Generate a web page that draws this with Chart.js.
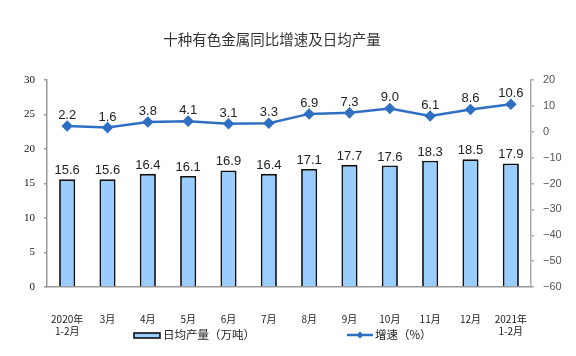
<!DOCTYPE html>
<html><head><meta charset="utf-8">
<script src="https://cdn.jsdelivr.net/npm/chart.js@4/dist/chart.umd.min.js"></script>
<style>html,body{margin:0;padding:0;background:#fff}#wrap{width:576px;height:356px}</style>
</head><body><div id="wrap"><canvas id="c" width="576" height="356"></canvas></div>
<script>
const categories = [["2020年","1-2月"],"3月","4月","5月","6月","7月","8月","9月","10月","11月","12月",["2021年","1-2月"]];
const output = [15.6,15.6,16.4,16.1,16.9,16.4,17.1,17.7,17.6,18.3,18.5,17.9];
const growth = [2.2,1.6,3.8,4.1,3.1,3.3,6.9,7.3,9.0,6.1,8.6,10.6];
const leftTicks = [0,5,10,15,20,25,30];
const rightTicks = [-60,-50,-40,-30,-20,-10,0,10,20];
const title = "十种有色金属同比增速及日均产量";
const legendBar = "日均产量（万吨）";
const legendLine = "增速（%）";

const BAR_FILL = "#99CCFF", LINE_COL = "#2F6FC3";
const CJK = '"Noto Sans CJK SC", sans-serif';

const deco = {
  id: 'deco',
  afterDatasetsDraw(chart) {
    const ctx = chart.ctx;
    ctx.save();
    ctx.fillStyle = '#222';
    ctx.textAlign = 'center';
    ctx.textBaseline = 'alphabetic';
    ctx.font = '13px "Liberation Sans", Arial, sans-serif';
    chart.getDatasetMeta(0).data.forEach((el, i) => {
      ctx.fillText(output[i].toFixed(1), el.x, el.y - 5);
    });
    chart.getDatasetMeta(1).data.forEach((el, i) => {
      ctx.fillText(growth[i].toFixed(1), el.x, el.y - 7);
    });
    // title
    ctx.font = '14.5px ' + CJK;
    ctx.fillStyle = '#333';
    ctx.textBaseline = 'middle';
    ctx.fillText(title, 272, 39);
    // legend
    ctx.textAlign = 'left';
    ctx.font = '11.5px ' + CJK;
    ctx.fillStyle = BAR_FILL;
    ctx.strokeStyle = '#000';
    ctx.lineWidth = 1.5;
    ctx.fillRect(134, 333, 26, 5);
    ctx.strokeRect(134, 333, 26, 5);
    ctx.fillStyle = '#222';
    ctx.fillText(legendBar, 163, 335);
    ctx.strokeStyle = LINE_COL;
    ctx.lineWidth = 2.5;
    ctx.beginPath(); ctx.moveTo(347, 335); ctx.lineTo(373, 335); ctx.stroke();
    ctx.fillStyle = LINE_COL;
    ctx.beginPath(); ctx.moveTo(360, 331.5); ctx.lineTo(363.5, 335); ctx.lineTo(360, 338.5); ctx.lineTo(356.5, 335); ctx.closePath(); ctx.fill();
    ctx.fillStyle = '#222';
    ctx.fillText(legendLine, 375, 335);
    ctx.restore();
  }
};

new Chart(document.getElementById('c'), {
  data: {
    labels: categories,
    datasets: [
      { type: 'bar', data: output, yAxisID: 'y', backgroundColor: BAR_FILL, borderColor: '#111', borderWidth: 1.8,
        borderSkipped: 'bottom', categoryPercentage: 1, barPercentage: 0.4, order: 2 },
      { type: 'line', data: growth, yAxisID: 'y1', borderColor: LINE_COL, backgroundColor: LINE_COL, borderWidth: 2.5,
        pointStyle: 'rectRot', pointRadius: 4, pointHoverRadius: 4, tension: 0, order: 1 }
    ]
  },
  options: {
    responsive: false, animation: false, events: [],
    layout: { padding: { left: 0, right: 0, top: 80, bottom: 0 } },
    plugins: { legend: { display: false }, title: { display: false }, tooltip: { enabled: false } },
    scales: {
      x: {
        offset: true,
        grid: { display: false },
        border: { display: true, color: '#999', width: 1.5 },
        ticks: { color: '#222', font: { family: '"Noto Sans CJK SC", sans-serif', size: 10 }, padding: 18, maxRotation: 0, autoSkip: false },
        afterFit(s) { s.height = 69; }
      },
      y: {
        position: 'left', min: 0, max: 30,
        afterBuildTicks(s) { s.ticks = leftTicks.map(v => ({ value: v })); },
        grid: { drawOnChartArea: false, tickLength: 3, color: '#999', lineWidth: 1.5 },
        border: { display: true, color: '#999', width: 1.5 },
        ticks: { color: '#111', font: { family: '"Liberation Serif", serif', size: 11 }, padding: 9 },
        afterFit(s) { s.width = 47; }
      },
      y1: {
        position: 'right', min: -60, max: 20,
        afterBuildTicks(s) { s.ticks = rightTicks.map(v => ({ value: v })); },
        grid: { drawOnChartArea: false, tickLength: 3, color: '#aaa', lineWidth: 1.5 },
        border: { display: true, color: '#aaa', width: 1.5 },
        ticks: { color: '#555', font: { family: '"Liberation Sans", Arial, sans-serif', size: 11 }, padding: 9,
          callback: v => (v < 0 ? '\u2212' + Math.abs(v) : String(v)) },
        afterFit(s) { s.width = 45; }
      }
    }
  },
  plugins: [deco]
});
</script></body></html>
